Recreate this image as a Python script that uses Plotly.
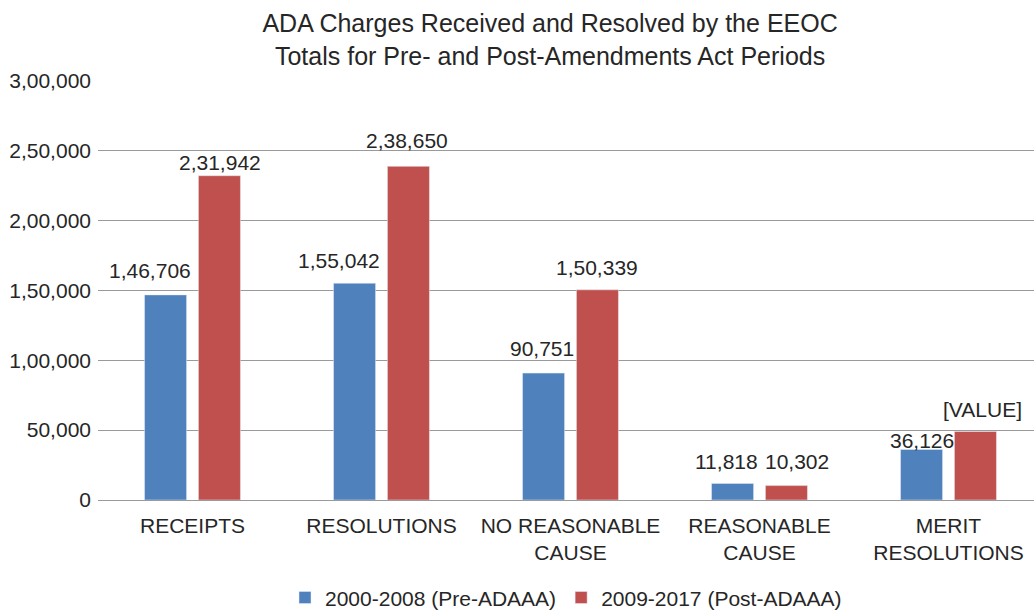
import plotly.graph_objects as go

categories = ["RECEIPTS", "RESOLUTIONS", "NO REASONABLE<br>CAUSE", "REASONABLE<br>CAUSE", "MERIT<br>RESOLUTIONS"]
series_names = ["2000-2008 (Pre-ADAAA)", "2009-2017 (Post-ADAAA)"]
pre_values = [146706, 155042, 90751, 11818, 36126]
post_values = [231942, 238650, 150339, 10302, 49000]
post_labels_override = [None, None, None, None, "[VALUE]"]
y_ticks = [0, 50000, 100000, 150000, 200000, 250000, 300000]

# label placement styling (pixel nudges relative to each bar's top centre)
pre_label_dx = [-16, -16, -2, -6, 0]
pre_label_dy = [24, 23, 25, 22, 9]
post_label_dx = [0, -2, -1, 10, 7]
post_label_dy = [13, 26, 22, 24, 22]
BAR_OFFSET = 27  # half the distance between the two bars of a group, px

BLUE = "#4F81BD"
RED = "#C0504D"
TEXT = "#262626"
FONT = "Liberation Sans, Arial, sans-serif"
FS = 21


def indian(n):
    s = str(int(n))
    if len(s) <= 3:
        return s
    last3 = s[-3:]
    rest = s[:-3]
    groups = []
    while len(rest) > 2:
        groups.insert(0, rest[-2:])
        rest = rest[:-2]
    if rest:
        groups.insert(0, rest)
    return ",".join(groups) + "," + last3


pre_text = [indian(v) for v in pre_values]
post_text = [o if o else indian(v) for v, o in zip(post_values, post_labels_override)]

fig = go.Figure()
fig.add_trace(go.Bar(x=categories, y=pre_values, name=series_names[0], marker_color=BLUE))
fig.add_trace(go.Bar(x=categories, y=post_values, name=series_names[1], marker_color=RED))

annotations = []
for cat, v, t, dx, dy in zip(categories, pre_values, pre_text, pre_label_dx, pre_label_dy):
    annotations.append(dict(x=cat, y=v, text=t, showarrow=False, xref="x", yref="y",
                            xanchor="center", yanchor="middle",
                            xshift=-BAR_OFFSET + dx, yshift=dy,
                            font=dict(size=FS, color=TEXT, family=FONT)))
for cat, v, t, dx, dy in zip(categories, post_values, post_text, post_label_dx, post_label_dy):
    annotations.append(dict(x=cat, y=v, text=t, showarrow=False, xref="x", yref="y",
                            xanchor="center", yanchor="middle",
                            xshift=BAR_OFFSET + dx, yshift=dy,
                            font=dict(size=FS, color=TEXT, family=FONT)))

fig.update_layout(
    width=1034, height=611,
    margin=dict(l=98, r=0, t=80, b=111, autoexpand=False),
    paper_bgcolor="white", plot_bgcolor="white",
    font=dict(family=FONT, size=FS, color=TEXT),
    barmode="group", bargap=0.43, bargroupgap=0.22,
    annotations=annotations,
    title=dict(
        text="ADA Charges Received and Resolved by the EEOC<br>Totals for Pre- and Post-Amendments Act Periods",
        x=0.532, xref="container", xanchor="center",
        y=1 - 32 / 611, yref="container", yanchor="middle",
        font=dict(size=25, color=TEXT, family=FONT),
    ),
    legend=dict(
        orientation="h", x=0.5, xanchor="center", y=-0.233, yanchor="middle",
        font=dict(size=FS, color=TEXT, family=FONT),
    ),
)
fig.update_xaxes(
    range=[-0.5, (1034 - 98) / 189 - 0.5],
    showline=False, showgrid=False, ticks="",
    ticklabelstandoff=11,
    tickfont=dict(size=FS, color=TEXT, family=FONT),
)
fig.update_yaxes(
    range=[0, 300400],
    tickvals=y_ticks, ticktext=[indian(v) for v in y_ticks],
    showgrid=True, gridcolor="#9a9a9a", gridwidth=1,
    zeroline=True, zerolinecolor="#9a9a9a", zerolinewidth=1,
    showline=False, ticks="", ticklabelstandoff=6,
    tickfont=dict(size=FS, color=TEXT, family=FONT),
)

fig.write_html("out.html", config={"displayModeBar": False},
               post_script="document.body.style.margin='0px';")
